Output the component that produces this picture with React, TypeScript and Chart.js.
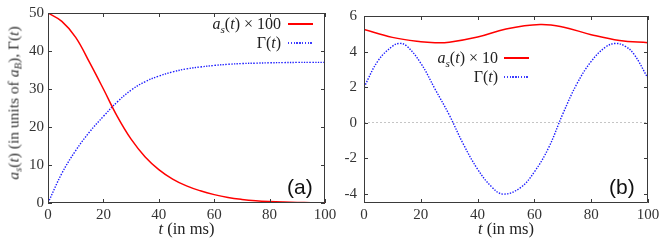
import React, { useEffect, useRef } from 'react';
import { Chart, registerables } from 'chart.js';

Chart.register(...registerables);

// ---------- data ----------
const X_TICKS = [0, 20, 40, 60, 80, 100];
const Y_TICKS_A = [0, 10, 20, 30, 40, 50];
const Y_TICKS_B = [-4, -2, 0, 2, 4, 6];

// panel (a)
const T_A = [0, 5, 10, 15, 20, 25, 30, 35, 40, 45, 50, 55, 60, 65, 70, 75, 80, 85, 90, 95, 100];
const AS_A = [50, 47.8, 43.6, 37.0, 30.0, 22.8, 16.8, 12.2, 8.8, 6.3, 4.5, 3.2, 2.2, 1.45, 0.95, 0.6, 0.38, 0.24, 0.15, 0.09, 0.05];
const GAMMA_A = [0, 7.8, 13.8, 18.7, 22.8, 26.6, 29.7, 31.9, 33.4, 34.5, 35.3, 35.8, 36.2, 36.5, 36.7, 36.8, 36.9, 36.95, 37, 37, 37];

// panel (b)
const T_B_AS = [0, 10, 20, 25, 30, 40, 50, 62, 70, 80, 90, 100];
const AS_B = [5.25, 4.8, 4.55, 4.5, 4.53, 4.82, 5.27, 5.52, 5.38, 4.95, 4.62, 4.5];
const T_B_GAMMA = [0, 5, 10, 12.5, 15, 20, 25, 30, 35, 40, 45, 49, 55, 60, 65, 70, 75, 80, 85, 88.5, 92, 95, 100];
const GAMMA_B = [2.0, 3.5, 4.3, 4.46, 4.32, 3.35, 1.9, 0.45, -1.2, -2.6, -3.6, -4.0, -3.65, -2.75, -1.4, 0.5, 2.2, 3.45, 4.25, 4.46, 4.3, 3.87, 2.5];

const RED = '#ff0000';
const BLUE = '#1a1aff';
const SERIF = "'Liberation Serif', 'DejaVu Serif', serif";
const SANS = "'Liberation Sans', Arial, sans-serif";

const pts = (xs: number[], ys: number[]) => xs.map((x, i) => ({ x, y: ys[i] }));

const framePlugin = {
  id: 'frameTicks',
  afterDatasetsDraw(chart: any) {
    const { ctx, chartArea } = chart;
    const { left, right, top, bottom } = chartArea;
    const xs = chart.scales.x;
    const ys = chart.scales.y;
    const L = 4;
    ctx.save();
    ctx.strokeStyle = '#3a3a3a';
    ctx.lineWidth = 1;
    ctx.beginPath();
    ctx.rect(left + 0.5, top + 0.5, right - left - 1, bottom - top - 1);
    for (const t of xs.ticks) {
      const px = Math.round(xs.getPixelForValue(t.value)) + 0.5;
      ctx.moveTo(px, bottom);
      ctx.lineTo(px, bottom - L);
      ctx.moveTo(px, top);
      ctx.lineTo(px, top + L);
    }
    for (const t of ys.ticks) {
      const py = Math.round(ys.getPixelForValue(t.value)) + 0.5;
      ctx.moveTo(left, py);
      ctx.lineTo(left + L, py);
      ctx.moveTo(right, py);
      ctx.lineTo(right - L, py);
    }
    ctx.stroke();
    ctx.restore();
  },
};

function makeConfig(
  datasets: any[],
  yTicks: number[],
  yMin: number,
  yMax: number,
  yWidth: number,
  yPad: number,
  padRight: number,
  zeroLine: boolean
): any {
  return {
    type: 'line',
    data: { datasets },
    options: {
      animation: false,
      responsive: false,
      events: [],
      layout: { padding: { left: 0, top: 13, right: padRight, bottom: 0 } },
      plugins: { legend: { display: false }, tooltip: { enabled: false } },
      elements: { point: { radius: 0 } },
      scales: {
        x: {
          type: 'linear',
          min: 0,
          max: 100,
          afterBuildTicks: (s: any) => {
            s.ticks = X_TICKS.map((v) => ({ value: v }));
          },
          afterFit: (s: any) => {
            s.height = 37;
          },
          grid: { display: false, drawTicks: false },
          border: { display: false },
          ticks: {
            padding: 3,
            color: '#333',
            maxRotation: 0,
            autoSkip: false,
            font: { family: SERIF, size: 15 },
          },
        },
        y: {
          type: 'linear',
          min: yMin,
          max: yMax,
          afterBuildTicks: (s: any) => {
            s.ticks = yTicks.map((v) => ({ value: v }));
          },
          afterFit: (s: any) => {
            s.width = yWidth;
          },
          grid: {
            display: zeroLine,
            drawTicks: false,
            color: (c: any) => (c.tick && c.tick.value === 0 ? 'rgba(150,150,150,0.55)' : 'rgba(0,0,0,0)'),
            lineWidth: 1,
          },
          border: { display: false, dash: [2, 2] },
          ticks: {
            padding: yPad,
            color: '#333',
            autoSkip: false,
            font: { family: SERIF, size: 15 },
          },
        },
      },
    },
    plugins: [framePlugin],
  };
}

const redSet = (data: any[]) => ({
  label: 'a_s(t)',
  data,
  borderColor: RED,
  borderWidth: 1.5,
  pointRadius: 0,
  tension: 0.4,
  fill: false,
});
const blueSet = (data: any[]) => ({
  label: 'Γ(t)',
  data,
  borderColor: BLUE,
  borderWidth: 1.4,
  borderDash: [1.4, 1.4],
  pointRadius: 0,
  tension: 0.4,
  fill: false,
});

const Sub = ({ children }: { children: React.ReactNode }) => (
  <span style={{ fontSize: '0.7em', position: 'relative', top: '0.32em' }}>{children}</span>
);

const abs = (s: React.CSSProperties): React.CSSProperties => ({ position: 'absolute', ...s });

function LegendRow({ right, cy, children }: { right: number; cy: number; children: React.ReactNode }) {
  return (
    <div
      style={abs({
        right: 664 - right,
        top: cy - 9,
        height: 18,
        lineHeight: '18px',
        fontFamily: SERIF,
        fontSize: 16,
        color: '#222',
        whiteSpace: 'nowrap',
      })}
    >
      {children}
    </div>
  );
}

function LegendLine({ x1, x2, cy, dotted }: { x1: number; x2: number; cy: number; dotted?: boolean }) {
  if (dotted) {
    return (
      <div
        style={abs({
          left: x1,
          top: cy - 1,
          width: x2 - x1,
          height: 2,
          backgroundImage: `repeating-linear-gradient(to right, ${BLUE} 0px, ${BLUE} 1.4px, transparent 1.4px, transparent 2.8px)`,
          opacity: 0.85,
        })}
      />
    );
  }
  return <div style={abs({ left: x1, top: cy - 1, width: x2 - x1, height: 2, background: RED })} />;
}

export default function App() {
  const refA = useRef<HTMLCanvasElement | null>(null);
  const refB = useRef<HTMLCanvasElement | null>(null);

  useEffect(() => {
    const a = new Chart(
      refA.current as HTMLCanvasElement,
      makeConfig(
        [redSet(pts(T_A, AS_A)), blueSet(pts(T_A, GAMMA_A))],
        Y_TICKS_A,
        0,
        50,
        48,
        4,
        15,
        false
      )
    );
    const b = new Chart(
      refB.current as HTMLCanvasElement,
      makeConfig(
        [redSet(pts(T_B_AS, AS_B)), blueSet(pts(T_B_GAMMA, GAMMA_B))],
        Y_TICKS_B,
        -4.5,
        6,
        32,
        7,
        16,
        true
      )
    );
    return () => {
      a.destroy();
      b.destroy();
    };
  }, []);

  const xTitle = (cx: number) => (
    <div
      style={abs({
        left: cx,
        top: 228,
        transform: 'translate(-50%, -50%)',
        fontFamily: SERIF,
        fontSize: 16.5,
        color: '#222',
        whiteSpace: 'nowrap',
        lineHeight: '17px',
      })}
    >
      <i>t</i> (in ms)
    </div>
  );

  return (
    <div style={{ position: 'fixed', left: 0, top: 0, width: 664, height: 240, background: '#fff', overflow: 'hidden' }}>
      <canvas ref={refA} width={340} height={240} style={abs({ left: 0, top: 0, width: 340, height: 240 })} />
      <canvas ref={refB} width={332} height={240} style={abs({ left: 332, top: 0, width: 332, height: 240 })} />

      {/* y axis title (a) */}
      <div
        style={abs({
          left: 14,
          top: 103,
          transform: 'translate(-50%, -50%) rotate(-90deg)',
          fontFamily: SERIF,
          fontSize: 15.5,
          color: '#333',
          whiteSpace: 'nowrap',
          lineHeight: '16px',
        })}
      >
        <i>a</i>
        <Sub>
          <i>s</i>
        </Sub>
        (<i>t</i>) (in units of <i>a</i>
        <Sub>
          <i>B</i>
        </Sub>
        ), Γ(<i>t</i>)
      </div>

      {xTitle(186.5)}
      {xTitle(506)}

      {/* legend (a) */}
      <LegendRow right={281} cy={24}>
        <i>a</i>
        <Sub>
          <i>s</i>
        </Sub>
        (<i>t</i>) × 100
      </LegendRow>
      <LegendLine x1={288} x2={313} cy={24} />
      <LegendRow right={281} cy={43}>
        Γ(<i>t</i>)
      </LegendRow>
      <LegendLine x1={288} x2={313} cy={43} dotted />

      {/* legend (b) */}
      <LegendRow right={498} cy={58}>
        <i>a</i>
        <Sub>
          <i>s</i>
        </Sub>
        (<i>t</i>) × 10
      </LegendRow>
      <LegendLine x1={504} x2={529} cy={58} />
      <LegendRow right={498} cy={77}>
        Γ(<i>t</i>)
      </LegendRow>
      <LegendLine x1={504} x2={529} cy={77} dotted />

      {/* panel labels */}
      <div style={abs({ left: 287, top: 176, fontFamily: SANS, fontSize: 21, lineHeight: '22px', color: '#111' })}>(a)</div>
      <div style={abs({ left: 609, top: 176, fontFamily: SANS, fontSize: 21, lineHeight: '22px', color: '#111' })}>(b)</div>
    </div>
  );
}
